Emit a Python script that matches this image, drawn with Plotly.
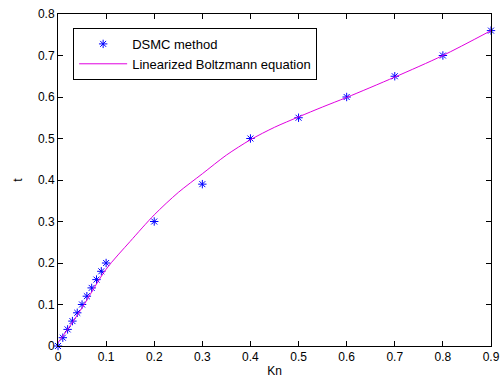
import plotly.graph_objects as go

kn_dsmc = [0, 0.01, 0.02, 0.03, 0.04, 0.05, 0.06, 0.07, 0.08, 0.09, 0.1,
           0.2, 0.3, 0.4, 0.5, 0.6, 0.7, 0.8, 0.9]
t_dsmc = [0, 0.02, 0.04, 0.06, 0.08, 0.10, 0.12, 0.14, 0.16, 0.18, 0.20,
          0.30, 0.39, 0.50, 0.55, 0.60, 0.65, 0.70, 0.76]

kn_lbe = [0, 0.02, 0.05, 0.1, 0.15, 0.2, 0.25, 0.3, 0.35, 0.4, 0.45, 0.5,
          0.55, 0.6, 0.7, 0.8, 0.9]
t_lbe = [0.008, 0.04, 0.092, 0.185, 0.252, 0.316, 0.37, 0.415, 0.46, 0.497,
         0.527, 0.552, 0.576, 0.599, 0.648, 0.70, 0.76]

fig = go.Figure()
fig.add_trace(go.Scatter(
    x=kn_dsmc, y=t_dsmc, mode="markers", name="DSMC method",
    marker=dict(symbol="asterisk-open", size=7, color="#0000ff",
                line=dict(color="#0000ff", width=1)),
    cliponaxis=False))
fig.add_trace(go.Scatter(
    x=kn_lbe, y=t_lbe, mode="lines", name="Linearized Boltzmann equation",
    line=dict(color="#e000e0", width=1, shape="spline", smoothing=0.8),
    cliponaxis=False))

axis_common = dict(
    showgrid=False, zeroline=False, showline=True, linecolor="black",
    linewidth=1, mirror="ticks", ticks="inside", ticklen=5,
    tickcolor="black", automargin=False,
    tickfont=dict(family="Arial, Liberation Sans", size=12, color="black"),
    dtick=0.1, tick0=0)

fig.update_layout(
    width=502, height=378,
    margin=dict(l=58, r=11, t=14, b=32),
    paper_bgcolor="white", plot_bgcolor="white",
    font=dict(family="Arial, Liberation Sans", size=12, color="black"),
    xaxis=dict(range=[0, 0.9], title=dict(text="Kn", standoff=8,
               font=dict(size=12)), **axis_common),
    yaxis=dict(range=[0, 0.8], title=dict(text="t", standoff=12,
               font=dict(size=12)), **axis_common),
    legend=dict(x=0.035, y=0.958, xanchor="left", yanchor="top",
                bgcolor="white", bordercolor="black", borderwidth=1,
                font=dict(size=13), itemwidth=48, tracegroupgap=0),
    showlegend=True,
)

fig.write_html("out.html",
               config={"displayModeBar": False},
               post_script="document.body.style.margin='0';"
                           "document.body.style.overflow='hidden';")
